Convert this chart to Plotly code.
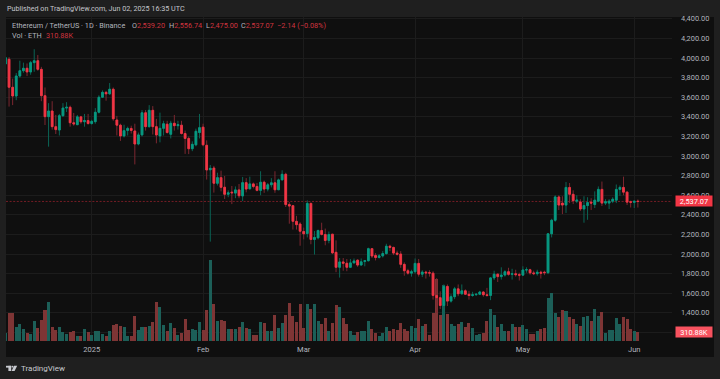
import pandas as pd
import plotly.graph_objects as go

START_DATE = "2024-12-08"
opens = [3940,3988,3702,3613,3817,3871,3896,3858,3953,3973,3885,3616,3402,3460,3300,3266,3412,3490,3498,3340,3320,3400,3350,3362,
 3332,3351,3447,3600,3650,3635,3682,3368,3315,3205,3262,3282,3256,3123,3216,3442,3300,3467,3300,3205,3283,3325,3222,3335,3310,3315,3230,3180,3075,3115,3240,
 3295,3110,2860,2878,2722,2780,2682,2610,2632,2622,2655,2593,2729,2666,2716,2690,2650,2733,2663,2707,2727,2656,2757,2814,2505,2494,2334,2307,
 2230,2210,2517,2149,2166,2240,2200,2139,2203,2018,1865,1920,1906,1865,1910,1938,1888,1925,1932,2055,1985,1965,1982,2005,2080,2068,2010,2000,1895,1830,1805,
 1820,1905,1795,1816,1810,1805,1578,1555,1475,1670,1520,1565,1645,1595,1625,1590,1577,1585,1590,1613,1585,1578,1757,1795,1770,1786,1820,1793,1799,1790,
 1785,1838,1840,1808,1800,1815,1815,1810,2207,2345,2583,2520,2500,2680,2610,2540,2532,2460,2495,2530,2505,2540,2660,2520,2520,2540,2550,2660,2680,2632,2535,
 2528,2539.20]
highs = [4010,4010,3790,3847,3973,3953,3945,3970,4090,4031,3910,3700,3540,3560,3420,3430,3540,3550,3515,3440,3420,3410,3430,3430,
 3370,3490,3620,3670,3665,3745,3700,3410,3330,3320,3300,3310,3330,3240,3470,3470,3520,3510,3380,3443,3360,3360,3360,3420,3360,3360,3260,3200,3150,3280,3430,
 3330,3160,2909,2900,2830,2851,2797,2650,2695,2690,2715,2787,2775,2790,2730,2725,2845,2750,2725,2775,2845,2770,2855,2830,2530,2500,2390,2325,
 2270,2548,2525,2235,2250,2320,2260,2230,2205,2140,1960,1960,1950,1950,1955,1945,1955,1935,2065,2060,2010,2000,2030,2105,2095,2075,2035,2030,1915,1850,1840,
 1955,1950,1835,1830,1835,1825,1754,1620,1690,1690,1590,1665,1690,1690,1640,1625,1615,1600,1625,1620,1655,1765,1830,1800,1865,1835,1860,1850,1840,1810,
 1875,1865,1850,1830,1840,1830,1830,2210,2360,2600,2600,2590,2735,2725,2650,2600,2560,2590,2580,2570,2640,2690,2740,2560,2560,2580,2710,2700,2790,2640,2545,
 2545,2556.74]
lows = [3910,3505,3520,3570,3800,3850,3816,3830,3860,3870,3560,3317,3096,3270,3225,3210,3400,3450,3300,3310,3320,3330,3300,3320,
 3320,3330,3435,3595,3565,3625,3360,3210,3155,3190,3210,3230,2915,3110,3200,3260,3290,3220,3130,3140,3210,3230,3180,3260,3270,3220,3022,3020,3050,3100,3180,
 3100,2760,2127,2627,2700,2640,2562,2580,2510,2570,2570,2540,2630,2660,2670,2640,2600,2625,2640,2680,2625,2655,2755,2480,2310,2250,2250,2085,
 2150,2170,2100,1995,2150,2190,2090,2110,2000,1815,1760,1830,1825,1860,1905,1870,1885,1875,1925,1960,1935,1955,1965,1995,2030,1990,1985,1860,1779,1790,1770,
 1800,1770,1765,1750,1770,1535,1399,1440,1385,1470,1505,1540,1570,1585,1585,1535,1565,1575,1585,1565,1565,1530,1735,1715,1740,1770,1780,1740,1770,1730,
 1780,1810,1790,1785,1780,1750,1785,1795,2170,2330,2450,2408,2420,2520,2510,2520,2440,2320,2350,2450,2470,2530,2490,2500,2460,2520,2520,2595,2600,2500,2475,
 2470,2475.00]
closes = [4004,3702,3613,3817,3871,3896,3858,3953,3973,3885,3616,3402,3460,3300,3270,3412,3490,3498,3340,3328,3400,3350,3362,3332,
 3354,3447,3600,3650,3635,3682,3380,3315,3205,3259,3282,3262,3123,3216,3442,3300,3467,3300,3215,3283,3330,3240,3335,3310,3320,3230,3180,3075,3120,3253,3290,
 3115,2858,2875,2722,2780,2681,2610,2625,2625,2655,2595,2729,2663,2716,2690,2650,2733,2663,2707,2727,2656,2757,2814,2505,2490,2334,2300,2233,
 2207,2517,2149,2170,2240,2200,2139,2200,2012,1865,1920,1906,1865,1910,1930,1888,1921,1932,2055,1980,1965,1982,2005,2080,2068,2010,1998,1895,1830,1805,1820,
 1905,1795,1816,1808,1806,1578,1555,1475,1670,1520,1565,1645,1595,1625,1590,1577,1585,1590,1613,1585,1577,1757,1795,1770,1786,1820,1793,1799,1790,1785,
 1838,1840,1808,1800,1815,1805,1810,2207,2345,2583,2500,2500,2680,2610,2545,2550,2460,2495,2525,2520,2550,2660,2520,2535,2540,2560,2660,2680,2632,2530,2528,
 2539,2537.07]
volumes_k = [255,921,921,455,566,389,278,244,666,444,699,1043,1288,466,377,477,311,222,311,333,178,167,411,300,
 200,333,333,233,167,333,533,566,500,455,167,178,833,377,466,466,511,622,1310,1121,544,344,588,444,211,266,733,355,400,355,633,
 355,1021,2697,1221,666,699,677,389,389,389,477,633,433,400,200,200,633,588,322,322,866,433,599,855,1277,833,622,1243,
 433,1221,1066,1221,666,577,755,333,588,1199,1132,766,555,333,200,311,333,333,677,400,255,167,266,466,333,411,366,599,389,333,488,
 444,733,500,555,200,944,2087,866,1865,888,566,488,566,622,466,588,433,200,233,278,666,1066,855,466,577,344,333,566,466,466,
 533,400,222,233,333,389,444,1421,1598,944,799,1032,999,799,744,577,488,788,833,655,1054,821,955,266,366,366,777,555,788,733,389,
 333,310.88]

price_ticks = [1200,1400,1600,1800,2000,2200,2400,2600,2800,3000,3200,3400,3600,3800,4000,4200,4400]
price_labels = ["","1,400.00","1,600.00","1,800.00","2,000.00","2,200.00","2,400.00","2,600.00","2,800.00","3,000.00","3,200.00","3,400.00","3,600.00","3,800.00","4,000.00","4,200.00","4,400.00"]
time_ticks = ["2025-01-01","2025-02-01","2025-03-01","2025-04-01","2025-05-01","2025-06-01"]
time_labels = ["2025","Feb","Mar","Apr","May","Jun"]

dates = pd.date_range(START_DATE, periods=len(closes), freq="D")
assert len(opens) == len(highs) == len(lows) == len(closes) == len(volumes_k), (len(opens), len(highs), len(lows), len(closes), len(volumes_k))

UP, DOWN = "#089981", "#f23645"
UP_WICK, DOWN_WICK = "#0a6556", "#7c2730"
UP_VOL, DOWN_VOL = "#1c5f58", "#7e3535"
GREY, FONT = "#b2b5be", "Roboto"
L, R, T, B = 6, 672, 17, 341
W, H = 720, 379

def px(x): return (x - L) / (R - L)
def py(y): return (B - y) / (B - T)

vol_colors = [UP_VOL if c >= o else DOWN_VOL for o, c in zip(opens, closes)]
body_hi = [max(o, c) for o, c in zip(opens, closes)]
body_lo = [min(o, c) for o, c in zip(opens, closes)]

fig = go.Figure()
fig.add_trace(go.Bar(x=dates, y=volumes_k, marker=dict(color=vol_colors, line_width=0), yaxis="y", width=86400000*0.84))
fig.add_trace(go.Candlestick(x=dates, open=opens, high=highs, low=lows, close=closes, yaxis="y2", whiskerwidth=0,
    increasing=dict(line=dict(color=UP_WICK, width=1), fillcolor=UP_WICK),
    decreasing=dict(line=dict(color=DOWN_WICK, width=1), fillcolor=DOWN_WICK)))
fig.add_trace(go.Candlestick(x=dates, open=opens, high=body_hi, low=body_lo, close=closes, yaxis="y2", whiskerwidth=0,
    increasing=dict(line=dict(color=UP, width=0.8), fillcolor=UP),
    decreasing=dict(line=dict(color=DOWN, width=0.8), fillcolor=DOWN)))

def note(x, y, text, size=7.3, color=GREY, **kw):
    fig.add_annotation(xref="paper", yref="paper", x=px(x), y=py(y), text=text, showarrow=False,
        xanchor=kw.pop("xanchor", "left"), yanchor="middle", font=dict(family=kw.pop("family", FONT), size=size, color=color), borderpad=0, **kw)

note(6, 9, "Published on TradingView.com, Jun 02, 2025 16:35 UTC", size=7.2, color="#c4c6cc")
note(11, 25, "Ethereum / TetherUS · 1D · Binance")
R_TXT = "#d0343f"
for x, k, v in [(130.5, "O", "2,539.20"), (167.5, "H", "2,556.74"), (204.5, "L", "2,475.00"), (240, "C", "2,537.07")]:
    note(x, 25, f'{k}<span style="color:{R_TXT}">{v}</span>')
note(276, 25, "−2.14 (−0.08%)", color=R_TXT)
note(11, 35, "Vol · ETH")
note(45, 35, "310.88K", color=R_TXT)
note(20, 368.5, "TradingView", size=8, color="#c8cad0")

fig.add_annotation(xref="paper", yref="y2", x=px(694), y=closes[-1], text=f"{closes[-1]:,.2f}", showarrow=False, xanchor="center",
    bgcolor=DOWN, width=35, height=9, font=dict(family=FONT, size=7.4, color="#ffffff"), borderpad=0.5)
fig.add_annotation(xref="paper", yref="y", x=px(694), y=volumes_k[-1], text=f"{volumes_k[-1]:.2f}K", showarrow=False, xanchor="center",
    bgcolor="#f7525f", width=35, height=9, font=dict(family=FONT, size=7.4, color="#ffffff"), borderpad=0.5)

shapes = [
    dict(type="rect", xref="paper", yref="paper", x0=px(6), x1=px(714), y0=py(17), y1=py(357), fillcolor="#0f0f0f", line_width=0, layer="below"),
    dict(type="line", xref="paper", yref="y2", x0=0, x1=1, y0=closes[-1], y1=closes[-1], line=dict(color="rgba(200,40,55,0.55)", width=1, dash="2px,1.6px"), layer="between"),
    # TradingView mark
    dict(type="rect", xref="paper", yref="paper", x0=px(6), x1=px(11.2), y0=py(365.8), y1=py(367.6), fillcolor="#c8cad0", line_width=0),
    dict(type="rect", xref="paper", yref="paper", x0=px(8.4), x1=px(11.2), y0=py(365.8), y1=py(371), fillcolor="#c8cad0", line_width=0),
    dict(type="circle", xref="paper", yref="paper", x0=px(11.6), x1=px(13.4), y0=py(365.8), y1=py(367.6), fillcolor="#c8cad0", line_width=0),
    dict(type="path", xref="paper", yref="paper", fillcolor="#c8cad0", line_width=0,
         path=f"M {px(14)} {py(365.8)} L {px(17.2)} {py(365.8)} L {px(14.6)} {py(371)} L {px(11.6)} {py(371)} Z"),
]

fig.update_layout(
    width=W, height=H, autosize=False, showlegend=False, barmode="overlay", bargap=0,
    margin=dict(l=L, r=W-R, t=T, b=H-B, pad=0),
    paper_bgcolor="#1f1f1f", plot_bgcolor="rgba(0,0,0,0)",
    shapes=shapes,
    xaxis=dict(type="date", range=["2024-12-08 03:36", "2025-06-11 12:00"], rangeslider=dict(visible=False),
        tickvals=time_ticks, ticktext=time_labels, tickfont=dict(family=FONT, size=7.6, color=GREY), ticks="", ticklabelstandoff=2,
        gridcolor="#1c1c1c", gridwidth=1, showline=False, zeroline=False),
    yaxis=dict(range=[0, 10820], visible=False, showgrid=False, fixedrange=True),
    yaxis2=dict(overlaying="y", side="right", range=[1113, 4419], tickvals=price_ticks, ticktext=price_labels,
        tickfont=dict(family=FONT, size=7.4, color=GREY), ticks="", ticklabelstandoff=8,
        gridcolor="#1c1c1c", gridwidth=1, showline=False, zeroline=False),
)
fig.write_html("out.html", config={"displayModeBar": False}, post_script="document.documentElement.style.background='#1f1f1f';document.body.style.margin='0';document.body.style.overflow='hidden';")
